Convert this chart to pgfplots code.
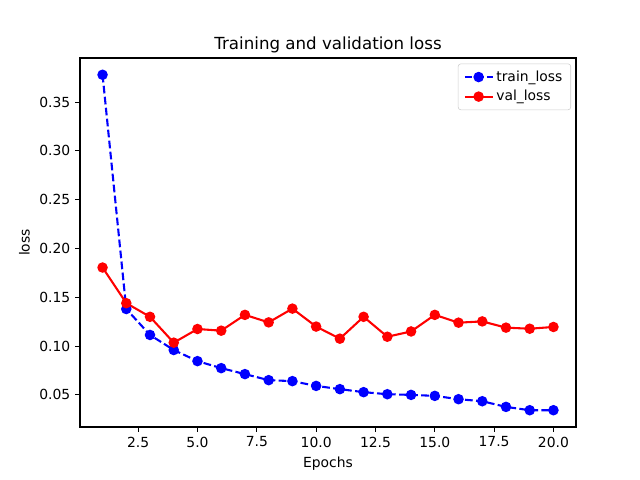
\documentclass[border=0pt]{standalone}
\usepackage{fontspec}
\setmainfont{DejaVu Sans}
\usepackage{pgfplots}
\pgfplotsset{compat=1.18}
\begin{document}
\begin{tikzpicture}
\begin{axis}[
  scale only axis,
  width=4.96in, height=3.69in,
  xmin=0.05, xmax=20.95, ymin=0.0171, ymax=0.3952,
  xtick={2.5,5,7.5,10,12.5,15,17.5,20},
  ytick={0.05,0.10,0.15,0.20,0.25,0.30,0.35},
  xticklabel style={/pgf/number format/.cd,fixed,fixed zerofill,precision=1},
  yticklabel style={/pgf/number format/.cd,fixed,fixed zerofill,precision=2},
  /pgf/number format/assume math mode=true,
  tick align=outside, tick pos=left,
  major tick length=3.5bp,
  every tick/.style={black, line width=0.8bp},
  axis line style={line width=0.8bp},
  ticklabel style={font=\fontsize{10bp}{12bp}\selectfont},
  xlabel={Epochs}, ylabel={loss},
  label style={font=\fontsize{10bp}{12bp}\selectfont},
  title={Training and validation loss},
  title style={font=\fontsize{12bp}{14bp}\selectfont, yshift=-6bp},
  legend cell align=left,
  legend style={font=\fontsize{10bp}{12bp}\selectfont, draw=black!20, rounded corners=2bp, at={(0.99,0.985)}, anchor=north east, inner xsep=4bp, inner ysep=3bp, row sep=1bp,
    /tikz/every even column/.append style={column sep=6bp}},
  legend image code/.code={\draw[mark repeat=2,mark phase=2] plot coordinates {(0bp,0bp) (10bp,0bp) (20bp,0bp)};},
]
\addplot[blue, line width=1.5bp, dash pattern=on 5.55bp off 2.4bp, mark=*, mark size=3bp, mark options={solid}] coordinates {
(1,0.378) (2,0.138) (3,0.1114) (4,0.096) (5,0.0846) (6,0.0774) (7,0.0713) (8,0.0651) (9,0.0641) (10,0.0592)
(11,0.0559) (12,0.0528) (13,0.0507) (14,0.0500) (15,0.0490) (16,0.0456) (17,0.0435) (18,0.0377) (19,0.0343) (20,0.0343)};
\addlegendentry{train\_loss}
\addplot[red, line width=1.5bp, mark=*, mark size=3bp] coordinates {
(1,0.1805) (2,0.144) (3,0.130) (4,0.1035) (5,0.1175) (6,0.1158) (7,0.132) (8,0.1243) (9,0.1384) (10,0.120)
(11,0.1076) (12,0.130) (13,0.1096) (14,0.115) (15,0.132) (16,0.124) (17,0.1253) (18,0.1189) (19,0.1178) (20,0.1196)};
\addlegendentry{val\_loss}
\end{axis}
\useasboundingbox ([xshift=-0.8in,yshift=-0.53in]current axis.south west) rectangle ([xshift=0.64in,yshift=0.58in]current axis.north east);
\end{tikzpicture}
\end{document}
